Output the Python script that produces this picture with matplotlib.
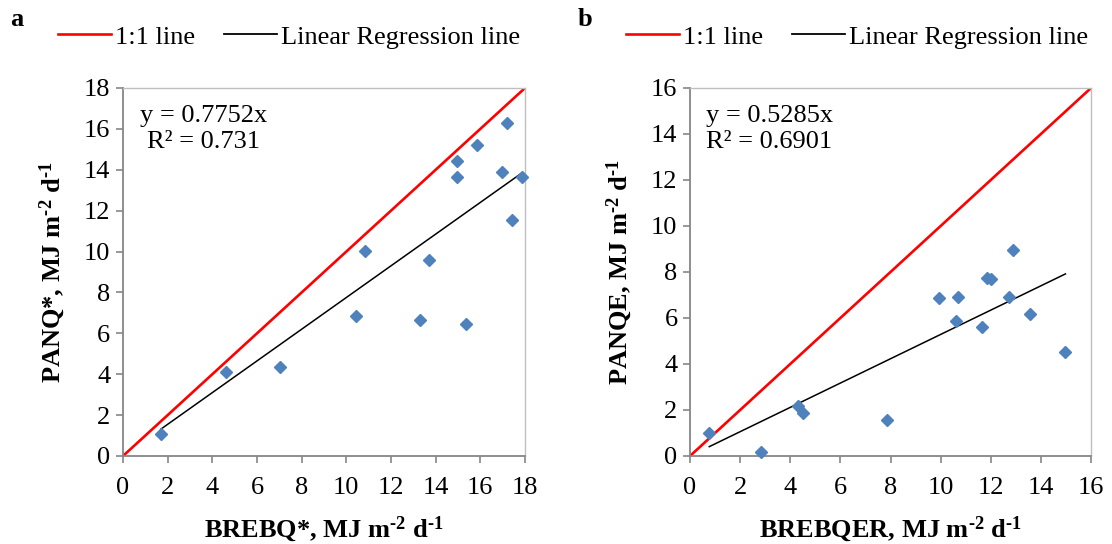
import matplotlib
matplotlib.use("Agg")
import matplotlib.pyplot as plt
from matplotlib.lines import Line2D
import numpy as np

plt.rcParams['font.family'] = ['Liberation Serif', 'DejaVu Serif']
plt.rcParams['mathtext.fontset'] = 'custom'
plt.rcParams['mathtext.rm'] = 'Liberation Serif:bold'
plt.rcParams['mathtext.bf'] = 'Liberation Serif:bold'
plt.rcParams['mathtext.it'] = 'Liberation Serif:italic:bold'

# Panel a data
brebq = [1.70, 4.63, 7.02, 10.43, 10.83, 13.29, 13.71, 14.94, 14.94, 15.34,
         15.86, 16.98, 17.20, 17.43, 17.88]
panq = [1.06, 4.10, 4.37, 6.87, 10.02, 6.65, 9.61, 14.41, 13.65, 6.45,
        15.23, 13.91, 16.29, 11.53, 13.65]
slope_a = 0.7752
eq_a = "y = 0.7752x\nR² = 0.731"

# Panel b data
brebqer = [0.77, 2.85, 4.29, 4.50, 7.88, 9.94, 10.69, 10.62, 11.67, 11.85,
           12.01, 12.74, 12.87, 13.58, 14.98]
panqe = [0.99, 0.19, 2.18, 1.86, 1.57, 6.89, 6.92, 5.89, 5.60, 7.72,
         7.69, 6.93, 8.96, 6.17, 4.54]
slope_b = 0.5285
eq_b = "y = 0.5285x\nR² = 0.6901"

fig = plt.figure(figsize=(11.12, 5.44), dpi=100)
W, H = 1112, 544

def make_ax(l, r, t, b):
    return fig.add_axes([l / W, 1 - b / H, (r - l) / W, (b - t) / H])

axa = make_ax(123, 525, 88, 456)
axb = make_ax(690, 1091, 88, 456)

FS = 19
blue = '#4F81BD'
axis_grey = '#868686'
box_grey = '#BFBFBF'

def style(ax, lim):
    ax.set_xlim(0, lim)
    ax.set_ylim(0, lim)
    ticks = np.arange(0, lim + 1, 2)
    ax.set_xticks(ticks)
    ax.set_yticks(ticks)
    ax.tick_params(direction='out', length=5, width=1.2, color=axis_grey,
                   labelsize=FS)
    ax.tick_params(axis='x', pad=10)
    ax.tick_params(axis='y', pad=4)
    for s in ['bottom', 'left']:
        ax.spines[s].set_color(axis_grey)
        ax.spines[s].set_linewidth(1.3)
    for s in ['top', 'right']:
        ax.spines[s].set_color(box_grey)
        ax.spines[s].set_linewidth(1.0)

def panel(ax, x, y, slope, lim, eq, eq_pos, eq_ha, xlabel, ylabel, letter, letter_x, leg_cx):
    style(ax, lim)
    ax.plot([0, lim], [0, lim], color='#FF0000', lw=1.9, zorder=2)
    xs = np.array([min(x), max(x)])
    ax.plot(xs, slope * xs, color='black', lw=1.1, zorder=2)
    ax.plot(x, y, linestyle='none', marker='D', ms=6.2, color=blue,
            markeredgecolor=blue, zorder=3, clip_on=False)
    ax.text(eq_pos[0], eq_pos[1], eq, transform=ax.transAxes, ha=eq_ha,
            va='top', fontsize=FS, multialignment=eq_ha, linespacing=1.25)
    ax.set_xlabel(xlabel, fontsize=FS, fontweight='bold', labelpad=11)
    ax.set_ylabel(ylabel, fontsize=FS, fontweight='bold', labelpad=12)
    fig.text(letter_x / W, 1 - 20 / H, letter, fontsize=FS, fontweight='bold',
             ha='left', va='center')
    handles = [Line2D([], [], color='#FF0000', lw=1.9),
               Line2D([], [], color='black', lw=1.3)]
    fig.legend(handles, ['1:1 line', 'Linear Regression line'], ncol=2,
               loc='center', bbox_to_anchor=(leg_cx / W, 1 - 37 / H),
               frameon=False, fontsize=FS, handlelength=2.0,
               handletextpad=0.15, columnspacing=1.1, borderpad=0)

sup = r'MJ m$^{\text{-2}}$ d$^{\text{-1}}$'
panel(axa, brebq, panq, slope_a, 18, eq_a, (0.20, 0.955), 'center',
      'BREBQ*, ' + sup, 'PANQ*, ' + sup, 'a', 10, 289)
panel(axb, brebqer, panqe, slope_b, 16, eq_b, (0.04, 0.955), 'left',
      'BREBQER, ' + sup, 'PANQE, ' + sup, 'b', 578, 857)

fig.savefig('out.png', dpi=100)
